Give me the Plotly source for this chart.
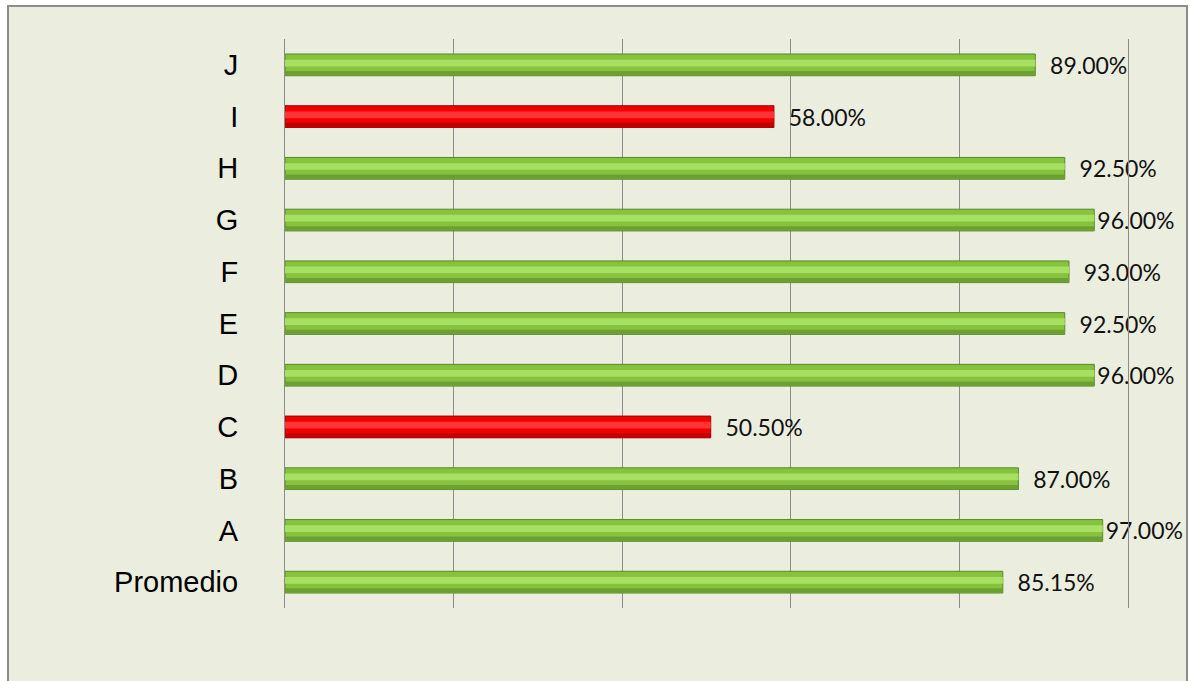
import plotly.graph_objects as go

categories = ["Promedio", "A", "B", "C", "D", "E", "F", "G", "H", "I", "J"]
values = [0.8515, 0.97, 0.87, 0.505, 0.96, 0.925, 0.93, 0.96, 0.925, 0.58, 0.89]
threshold = 0.60

GREEN = "#86C23E"
GREEN_HI = "#A6DF62"
GREEN_LO = "#6E9F32"
GREEN_EDGE = "#5A8826"
RED = "#F00000"
RED_HI = "#FF3535"
RED_LO = "#C00000"
RED_EDGE = "#990000"

is_ok = [v >= threshold for v in values]
base_colors = [GREEN if ok else RED for ok in is_ok]
hi_colors = [GREEN_HI if ok else RED_HI for ok in is_ok]
lo_colors = [GREEN_LO if ok else RED_LO for ok in is_ok]
edge_colors = [GREEN_EDGE if ok else RED_EDGE for ok in is_ok]
# labels near the right wall sit closer to the bar end (as in the original)
labels = [("" if v >= 0.95 else "\u00a0\u00a0") + f"{v:.2%}" for v in values]

fig = go.Figure()
fig.add_trace(go.Bar(
    y=categories, x=values, orientation="h", width=0.42,
    marker=dict(color=base_colors, line=dict(color=edge_colors, width=1)),
    text=labels, texttemplate="%{text}", textposition="outside", constraintext="none",
    textfont=dict(family="Lato", size=23, color="#111111"),
    cliponaxis=False, showlegend=False,
))
fig.add_trace(go.Bar(
    y=categories, x=values, orientation="h", width=0.09, offset=-0.21,
    marker=dict(color=lo_colors, line=dict(width=0)),
    hoverinfo="skip", showlegend=False,
))
fig.add_trace(go.Bar(
    y=categories, x=values, orientation="h", width=0.13, offset=-0.03,
    marker=dict(color=hi_colors, line=dict(width=0)),
    hoverinfo="skip", showlegend=False,
))

L, R = 285, 1128
fig.update_layout(
    width=1190, height=681,
    barmode="overlay",
    paper_bgcolor="white",
    plot_bgcolor="rgba(0,0,0,0)",
    margin=dict(l=L, r=1190 - R, t=39, b=73),
    xaxis=dict(range=[0, 1], dtick=0.2, showticklabels=False, showgrid=True,
               gridcolor="#8C8C8C", gridwidth=1, zeroline=False, showline=False,
               fixedrange=True),
    yaxis=dict(categoryorder="array", categoryarray=categories, showgrid=False,
               showline=True, mirror=True, linecolor="#8C8C8C", linewidth=1,
               ticks="", ticklabelstandoff=40,
               tickfont=dict(family="Liberation Sans", size=29, color="#000000")),
    shapes=[
        dict(type="rect", xref="paper", yref="paper", layer="below",
             x0=(8 - L) / (R - L), x1=(1187 - L) / (R - L),
             y0=(608 - 700) / 569, y1=(608 - 6) / 569,
             fillcolor="#EBEEDF", line=dict(color="#8C8C8C", width=2)),
    ],
)

fig.write_html("out.html")
